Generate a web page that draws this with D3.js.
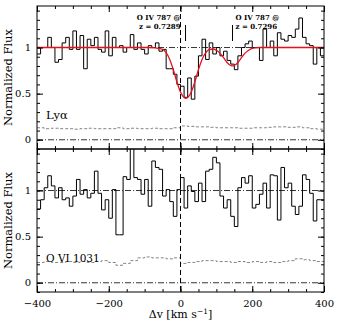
<!DOCTYPE html>
<html>
<head>
<meta charset="utf-8">
<script src="https://cdn.jsdelivr.net/npm/d3@7"></script>
<style>
body { margin: 0; background: #fff; }
text { font-family: "DejaVu Serif", serif; fill: #000; }
</style>
</head>
<body>
<script>
var W = 337, H = 322;
var left = 37, right = 324, top0 = 6, ph = 143;

// velocity grid (bin left edges, km/s)
var vel = d3.range(-400, 400, 10);

// Ly alpha panel, normalized flux per bin
var fluxLya = [0.93, 1.00, 1.00, 1.11, 1.00, 0.84, 0.87, 1.05, 1.11, 0.98,
               1.18, 0.98, 1.13, 0.77, 1.09, 1.02, 1.11, 0.98, 0.95, 1.18,
               0.91, 1.11, 1.00, 1.02, 0.95, 1.00, 1.14, 0.98, 1.05, 0.98,
               0.93, 1.02, 1.00, 1.05, 0.96, 0.98, 0.77, 0.77, 0.71, 0.60,
               0.58, 0.46, 0.67, 0.44, 0.69, 0.91, 1.09, 0.87, 1.05, 0.93,
               1.00, 0.91, 0.96, 0.86, 0.82, 0.76, 0.91, 1.00, 1.04, 1.07,
               1.00, 1.00, 0.86, 1.20, 1.00, 1.07, 0.91, 1.16, 1.09, 1.07,
               1.13, 1.11, 1.20, 1.32, 1.11, 1.04, 1.02, 0.82, 1.00, 0.91];

// O VI 1031 panel, normalized flux per bin
var fluxOVI = [0.80, 0.90, 1.03, 1.16, 1.05, 0.92, 1.03, 0.90, 0.92, 0.83,
               0.94, 1.12, 0.96, 1.01, 0.92, 0.97, 1.21, 0.97, 0.79, 0.90,
               0.70, 1.01, 0.52, 0.52, 1.15, 1.12, 1.60, 1.14, 1.12, 0.96,
               1.12, 0.83, 1.32, 1.25, 1.23, 0.94, 1.01, 0.88, 0.72, 1.01,
               1.14, 0.81, 1.05, 0.99, 0.88, 1.08, 0.88, 1.21, 1.23, 1.36,
               1.30, 0.94, 0.81, 0.90, 0.72, 0.61, 1.03, 1.14, 1.08, 1.16,
               0.81, 0.85, 0.96, 1.08, 0.81, 1.17, 1.16, 0.68, 1.25, 1.03,
               1.08, 0.83, 0.74, 0.83, 1.17, 1.12, 0.97, 0.67, 0.90, 0.90];

// error spectra (20 km/s bins)
var errVel = d3.range(-400, 400, 20);
var errLya = [0.13, 0.12, 0.125, 0.12, 0.12, 0.115, 0.12, 0.125, 0.12, 0.12,
              0.12, 0.13, 0.12, 0.125, 0.12, 0.12, 0.125, 0.12, 0.12, 0.13,
              0.15, 0.145, 0.14, 0.14, 0.135, 0.13, 0.13, 0.13, 0.125, 0.125,
              0.13, 0.13, 0.135, 0.14, 0.14, 0.135, 0.14, 0.13, 0.12, 0.115];
var errOVI = [0.22, 0.23, 0.22, 0.22, 0.23, 0.22, 0.23, 0.22, 0.23, 0.24,
              0.22, 0.19, 0.21, 0.24, 0.27, 0.28, 0.27, 0.27, 0.26, 0.27,
              0.21, 0.22, 0.23, 0.24, 0.24, 0.23, 0.23, 0.22, 0.23, 0.22,
              0.23, 0.22, 0.23, 0.22, 0.23, 0.24, 0.26, 0.25, 0.24, 0.23];

// red fit
var fitVel = [-400, -90, -70, -50, -40, -30, -20, -10, 0, 10, 15, 20, 30, 40, 50, 60,
              70, 80, 90, 100, 110, 120, 130, 140, 145, 150, 160, 170, 180, 190, 200, 210, 220, 400];
var fitLya = [1, 1, 0.995, 0.98, 0.944, 0.871, 0.759, 0.628, 0.518, 0.457, 0.449, 0.457, 0.518, 0.628, 0.759, 0.871,
              0.943, 0.977, 0.984, 0.971, 0.939, 0.89, 0.838, 0.805, 0.80, 0.805, 0.838, 0.89, 0.939, 0.971, 0.99, 0.997, 1, 1];

var markVel = [14, 145];
var markLine1 = ["O IV 787 @", "O IV 787 @"];
var markLine2 = ["z = 0.7289", "z = 0.7296"];
var markAnchor = ["end", "start"];

var xMajor = [-400, -200, 0, 200, 400];
var xMinor = d3.range(-400, 401, 50);
var yMajor = [0, 0.5, 1];
var yMinor = d3.range(-1, 15).map(function(d){ return d / 10; });

var svg = d3.select("body").append("svg")
    .attr("width", W)
    .attr("height", H);

var x = d3.scaleLinear().domain([-400, 400]).range([left, right]);
var fmt = d3.format("");

function stepData(vs, fs, w) {
    var pts = vs.map(function(v, i){ return [v, fs[i]]; });
    pts.push([vs[vs.length - 1] + w, fs[fs.length - 1]]);
    return pts;
}

function drawPanel(y0, idx, flux, err, label, withFit, showX) {
    var y = d3.scaleLinear().domain([-0.1, 1.45]).range([y0 + ph, y0]);
    var g = svg.append("g");

    var clipId = "clip" + idx;
    svg.append("clipPath").attr("id", clipId)
        .append("rect")
        .attr("x", left).attr("y", y0)
        .attr("width", right - left).attr("height", ph);

    // reference lines at 0 and 1
    g.selectAll(".ref")
        .data([0, 1])
        .enter().append("line")
        .attr("x1", left).attr("x2", right)
        .attr("y1", function(d){ return y(d); })
        .attr("y2", function(d){ return y(d); })
        .attr("stroke", "#000")
        .attr("stroke-width", 0.8)
        .attr("stroke-dasharray", "6,2,1,2");

    var line = d3.line()
        .x(function(d){ return x(d[0]); })
        .y(function(d){ return y(d[1]); })
        .curve(d3.curveStepAfter);

    // error spectrum
    g.append("path")
        .datum(stepData(errVel, err, 20))
        .attr("d", line)
        .attr("fill", "none")
        .attr("stroke", "#777")
        .attr("stroke-width", 0.9)
        .attr("stroke-dasharray", "3,2");

    // data
    g.append("path")
        .datum(stepData(vel, flux, 10))
        .attr("clip-path", "url(#" + clipId + ")")
        .attr("d", line)
        .attr("fill", "none")
        .attr("stroke", "#000")
        .attr("stroke-width", 1);

    if (withFit) {
        var fitLine = d3.line()
            .x(function(d){ return x(d[0]); })
            .y(function(d){ return y(d[1]); })
            .curve(d3.curveMonotoneX);
        g.append("path")
            .datum(fitVel.map(function(v, i){ return [v, fitLya[i]]; }))
            .attr("d", fitLine)
            .attr("fill", "none")
            .attr("stroke", "#e8101c")
            .attr("stroke-width", 1.3);
    }

    // label inside the panel
    g.append("text")
        .attr("x", 46)
        .attr("y", y(withFit ? 0.22 : 0.23))
        .attr("font-size", withFit ? 11.5 : 10.5)
        .text(label);

    // frame
    g.append("rect")
        .attr("x", left).attr("y", y0)
        .attr("width", right - left).attr("height", ph)
        .attr("fill", "none")
        .attr("stroke", "#000")
        .attr("stroke-width", 1);

    function clean(sel) {
        sel.select(".domain").remove();
        sel.selectAll(".tick line").attr("stroke", "#000");
    }

    // left axis
    g.append("g").attr("transform", "translate(" + left + ",0)")
        .call(d3.axisLeft(y).tickValues(yMinor).tickSize(-3).tickFormat(""))
        .call(clean);
    g.append("g").attr("transform", "translate(" + left + ",0)")
        .call(d3.axisLeft(y).tickValues(yMajor).tickSize(-6).tickPadding(6).tickFormat(fmt))
        .call(clean)
        .selectAll("text")
        .attr("font-family", "DejaVu Serif")
        .attr("font-size", 10);

    // right axis
    g.append("g").attr("transform", "translate(" + right + ",0)")
        .call(d3.axisRight(y).tickValues(yMinor).tickSize(-3).tickFormat(""))
        .call(clean);
    g.append("g").attr("transform", "translate(" + right + ",0)")
        .call(d3.axisRight(y).tickValues(yMajor).tickSize(-6).tickFormat(""))
        .call(clean);

    // top axis
    g.append("g").attr("transform", "translate(0," + y0 + ")")
        .call(d3.axisTop(x).tickValues(xMinor).tickSize(-3).tickFormat(""))
        .call(clean);
    g.append("g").attr("transform", "translate(0," + y0 + ")")
        .call(d3.axisTop(x).tickValues(xMajor).tickSize(-6).tickFormat(""))
        .call(clean);

    // bottom axis
    g.append("g").attr("transform", "translate(0," + (y0 + ph) + ")")
        .call(d3.axisBottom(x).tickValues(xMinor).tickSize(-3).tickFormat(""))
        .call(clean);
    var bx = g.append("g").attr("transform", "translate(0," + (y0 + ph) + ")")
        .call(d3.axisBottom(x).tickValues(xMajor).tickSize(-6).tickPadding(8)
              .tickFormat(showX ? d3.format("") : ""))
        .call(clean);
    bx.selectAll("text")
        .attr("font-family", "DejaVu Serif")
        .attr("font-size", 10);

    // y title
    svg.append("text")
        .attr("transform", "translate(12," + (y0 + ph / 2) + ") rotate(-90)")
        .attr("text-anchor", "middle")
        .attr("font-size", 11.5)
        .text("Normalized Flux");

    return y;
}

var yTop = drawPanel(top0, 0, fluxLya, errLya, "Lyα", true, false);
drawPanel(top0 + ph, 1, fluxOVI, errOVI, "O VI 1031", false, true);

// vertical dashed line at v = 0
svg.append("line")
    .attr("x1", x(0)).attr("x2", x(0))
    .attr("y1", top0).attr("y2", top0 + 2 * ph)
    .attr("stroke", "#000")
    .attr("stroke-width", 1)
    .attr("stroke-dasharray", "5,3");

// O IV markers
markVel.forEach(function(v, i) {
    var mx = x(v);
    svg.append("line")
        .attr("x1", mx).attr("x2", mx)
        .attr("y1", 25).attr("y2", 41)
        .attr("stroke", "#000")
        .attr("stroke-width", 1);
    var tx = markAnchor[i] == "end" ? mx - 5 : mx + 3;
    svg.append("text")
        .attr("x", tx).attr("y", 20)
        .attr("text-anchor", markAnchor[i])
        .attr("font-family", "DejaVu Sans")
        .attr("font-weight", "bold")
        .attr("font-size", 7)
        .text(markLine1[i]);
    svg.append("text")
        .attr("x", tx).attr("y", 29)
        .attr("text-anchor", markAnchor[i])
        .attr("font-family", "DejaVu Sans")
        .attr("font-weight", "bold")
        .attr("font-size", 7)
        .text(markLine2[i]);
});

// x title
var xt = svg.append("text")
    .attr("x", x(0))
    .attr("y", 318)
    .attr("text-anchor", "middle")
    .attr("font-size", 11);
xt.append("tspan").text("Δv  [km s");
xt.append("tspan").attr("font-size", 7.5).attr("dy", -4).text("−1");
xt.append("tspan").attr("dy", 4).text("]");
</script>
</body>
</html>
